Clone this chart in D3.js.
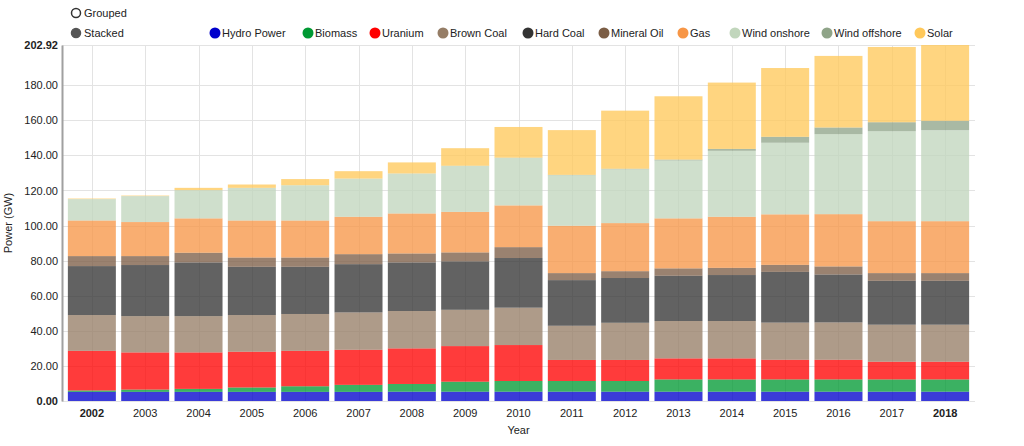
<!DOCTYPE html>
<html>
<head>
<meta charset="utf-8">
<script src="https://cdn.jsdelivr.net/npm/d3@7"></script>
<style>
  html, body { margin: 0; padding: 0; background: #fff; }
  svg { display: block; font-family: "Liberation Sans", Arial, sans-serif; }
</style>
</head>
<body>
<svg id="chart" width="1024" height="446"></svg>
<script>
// ---- data (GW) ----
const years = [2002, 2003, 2004, 2005, 2006, 2007, 2008, 2009, 2010, 2011, 2012, 2013, 2014, 2015, 2016, 2017, 2018];
const seriesNames = ["Hydro Power", "Biomass", "Uranium", "Brown Coal", "Hard Coal", "Mineral Oil", "Gas", "Wind onshore", "Wind offshore", "Solar"];
const hydro        = [5.2, 5.2, 5.2, 5.2, 5.2, 5.2, 5.3, 5.3, 5.3, 5.3, 5.3, 5.3, 5.3, 5.3, 5.3, 5.3, 5.3];
const biomass      = [0.8, 1.3, 1.7, 2.5, 3.2, 4.0, 4.4, 5.7, 6.1, 6.1, 6.1, 7.0, 7.0, 7.0, 7.0, 7.0, 7.0];
const uranium      = [22.6, 21.2, 20.8, 20.4, 20.2, 20.0, 20.3, 20.3, 20.5, 12.0, 12.0, 12.0, 12.0, 11.2, 11.2, 10.1, 10.1];
const brownCoal    = [20.4, 20.7, 20.7, 20.9, 21.0, 21.3, 21.3, 20.7, 21.3, 19.5, 21.2, 21.3, 21.3, 21.2, 21.3, 21.1, 21.1];
const hardCoal     = [27.9, 29.1, 30.6, 27.5, 26.9, 27.5, 27.7, 27.6, 28.3, 26.0, 25.5, 25.8, 26.2, 28.9, 27.3, 25.0, 25.0];
const mineralOil   = [5.7, 5.1, 5.5, 5.3, 5.3, 5.7, 5.1, 5.1, 6.2, 4.0, 3.9, 4.2, 4.1, 4.0, 4.6, 4.4, 4.4];
const gas          = [20.3, 19.4, 19.6, 21.1, 21.1, 21.3, 22.8, 23.1, 23.8, 27.0, 27.4, 28.5, 29.1, 28.8, 29.8, 29.6, 29.6];
const windOnshore  = [12.2, 14.8, 16.1, 18.6, 20.1, 21.8, 22.8, 26.2, 27.1, 28.8, 30.7, 33.0, 37.6, 40.8, 45.6, 51.3, 51.9];
const windOffshore = [0, 0, 0, 0, 0, 0, 0, 0.1, 0.1, 0.2, 0.3, 0.5, 1.1, 3.4, 3.8, 5.1, 5.3];
const solar        = [0.3, 0.3, 1.3, 1.9, 3.5, 4.2, 6.3, 10.0, 17.5, 25.5, 33.1, 36.1, 37.8, 39.2, 40.8, 42.9, 43.22];
const yTickValues  = [0, 20, 40, 60, 80, 100, 120, 140, 160, 180];
const modeLabels   = ["Grouped", "Stacked"];

// ---- styles / layout ----
const colors = ["#0000cc", "#009933", "#ff0000", "#957d66", "#333333", "#7b5d45", "#f79646", "#c1d6bc", "#8fa488", "#ffc85a"];
const legendX = [215, 308, 375, 443, 528, 604, 683, 735, 827, 920];
const seriesValues = [hydro, biomass, uranium, brownCoal, hardCoal, mineralOil, gas, windOnshore, windOffshore, solar];

(function draw() {
  const rows = years.map((yr, i) => {
    const r = { year: yr };
    seriesNames.forEach((n, k) => { r[n] = seriesValues[k][i]; });
    return r;
  });
  const stacked = d3.stack().keys(seriesNames)(rows);
  const maxTotal = d3.max(rows, r => d3.sum(seriesNames, n => r[n]));

  const svg = d3.select("#chart");
  const pLeft = 62, pRight = 975, pTop = 45, pBottom = 401;

  const x = d3.scaleBand().domain(years).range([pLeft, pRight]).paddingInner(0.1).paddingOuter(0.11);
  const y = d3.scaleLinear().domain([0, maxTotal]).range([pBottom, pTop]);
  const allTicks = yTickValues.concat([maxTotal]);

  // grid
  const grid = svg.append("g");
  grid.selectAll("line.h").data(allTicks).join("line").attr("class", "h")
    .attr("x1", pLeft).attr("x2", pRight)
    .attr("y1", d => Math.round(y(d)) + 0.5).attr("y2", d => Math.round(y(d)) + 0.5)
    .attr("stroke", "#e3e3e3").attr("stroke-width", 1);
  grid.selectAll("line.v").data(years).join("line").attr("class", "v")
    .attr("x1", d => Math.round(x(d) + x.bandwidth() / 2) + 0.5).attr("x2", d => Math.round(x(d) + x.bandwidth() / 2) + 0.5)
    .attr("y1", pTop).attr("y2", pBottom)
    .attr("stroke", "#e3e3e3").attr("stroke-width", 1);

  // bars
  svg.append("g").selectAll("g").data(stacked).join("g")
    .attr("fill", (d, i) => colors[i]).attr("fill-opacity", 0.77)
    .selectAll("rect").data(d => d).join("rect")
    .attr("x", d => x(d.data.year))
    .attr("width", x.bandwidth())
    .attr("y", d => y(d[1]))
    .attr("height", d => Math.max(0, y(d[0]) - y(d[1])));

  // y axis
  const yAxis = svg.append("g").attr("transform", `translate(${pLeft},0)`)
    .call(d3.axisLeft(y).tickValues(allTicks).tickFormat(d3.format(".2f")).tickSize(0).tickPadding(4));
  yAxis.select(".domain").attr("stroke", "#a0a0a0").attr("stroke-width", 2);
  yAxis.selectAll("text").attr("font-size", 11).attr("fill", "#222")
    .attr("font-family", "'Liberation Sans', Arial, sans-serif")
    .attr("font-weight", (d, i) => (i === 0 || i === allTicks.length - 1) ? "bold" : "normal");

  // x axis
  const xAxis = svg.append("g").attr("transform", `translate(0,${pBottom})`)
    .call(d3.axisBottom(x).tickSize(0).tickPadding(8));
  xAxis.select(".domain").remove();
  xAxis.selectAll("text").attr("font-size", 11).attr("fill", "#222")
    .attr("font-family", "'Liberation Sans', Arial, sans-serif")
    .attr("font-weight", (d, i) => (i === 0 || i === years.length - 1) ? "bold" : "normal");

  // axis titles
  svg.append("text").attr("x", (pLeft + pRight) / 2).attr("y", 434)
    .attr("text-anchor", "middle").attr("font-size", 11).attr("fill", "#222").text("Year");
  svg.append("text").attr("transform", `translate(12,${(pTop + pBottom) / 2}) rotate(-90)`)
    .attr("text-anchor", "middle").attr("font-size", 11).attr("fill", "#222").text("Power (GW)");

  // mode radio controls
  const modes = svg.append("g").selectAll("g").data(modeLabels).join("g")
    .attr("transform", (d, i) => `translate(76,${13 + i * 20})`);
  modes.append("circle").attr("r", 4.5)
    .attr("fill", (d, i) => i === 1 ? "#555" : "#fff")
    .attr("stroke", (d, i) => i === 1 ? "#555" : "#333").attr("stroke-width", 1.5);
  modes.append("text").attr("x", 8).attr("y", 4).attr("font-size", 11).attr("fill", "#222").text(d => d);

  // legend
  const leg = svg.append("g").selectAll("g").data(seriesNames).join("g")
    .attr("transform", (d, i) => `translate(${legendX[i]},33)`);
  leg.append("circle").attr("r", 5.5).attr("fill", (d, i) => colors[i]);
  leg.append("text").attr("x", 7).attr("y", 4).attr("font-size", 11).attr("fill", "#222").text(d => d);
})();
</script>
</body>
</html>
